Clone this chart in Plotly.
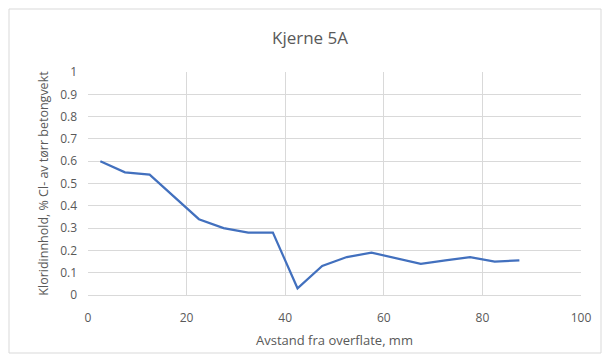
import plotly.graph_objects as go

distance_mm = [2.5, 7.5, 12.5, 17.5, 22.5, 27.5, 32.5, 37.5, 42.5, 47.5,
               52.5, 57.5, 62.5, 67.5, 72.5, 77.5, 82.5, 87.5]
chloride = [0.60, 0.55, 0.54, 0.44, 0.34, 0.30, 0.28, 0.28, 0.03, 0.13,
            0.17, 0.19, 0.165, 0.14, 0.155, 0.17, 0.15, 0.155]

title_text = "Kjerne 5A"
x_title = "Avstand fra overflate, mm"
y_title = "Kloridinnhold, % Cl- av tørr betongvekt"

L, R, T, B = 88, 26, 72, 69
W, H = 607, 364
pw, ph = W - L - R, H - T - B

fig = go.Figure()
fig.add_trace(go.Scatter(x=distance_mm, y=chloride, mode="lines",
                         line=dict(color="#4270BE", width=2.2), showlegend=False))

def px_to_paper_x(px):
    return (px - L) / pw

def px_to_paper_y(py):
    return (H - B - py) / ph

fig.add_shape(type="rect", xref="paper", yref="paper",
              x0=px_to_paper_x(9), x1=px_to_paper_x(601),
              y0=px_to_paper_y(353), y1=px_to_paper_y(9),
              line=dict(color="#d9d9d9", width=1), fillcolor="rgba(0,0,0,0)", layer="below")

font_family = "Open Sans, Liberation Sans, sans-serif"
fig.update_layout(
    width=W, height=H,
    margin=dict(l=L, r=R, t=T, b=B),
    paper_bgcolor="white", plot_bgcolor="white",
    title=dict(text=title_text, x=310 / W, xanchor="center", y=1 - 38 / H, yanchor="middle",
               font=dict(family=font_family, size=17, color="#595959")),
    font=dict(family=font_family, color="#595959", size=11),
    xaxis=dict(range=[0, 100], dtick=20, showgrid=True, gridcolor="#d9d9d9", gridwidth=1,
               zeroline=False, showline=True, linecolor="#d9d9d9", ticks="",
               ticklabelstandoff=12,
               tickfont=dict(size=12, color="#595959"),
               title=dict(text=x_title, font=dict(size=13, color="#595959"), standoff=10)),
    yaxis=dict(range=[0, 1], dtick=0.1, showgrid=True, gridcolor="#d9d9d9", gridwidth=1,
               zeroline=False, showline=False, ticks="",
               ticklabelstandoff=10,
               tickfont=dict(size=12, color="#595959"), tickformat="~g",
               title=dict(text=y_title, font=dict(size=12.5, color="#595959"), standoff=8)),
)

fig.write_html("out.html", config={"displayModeBar": False},
               post_script="document.body.style.margin='0';")
